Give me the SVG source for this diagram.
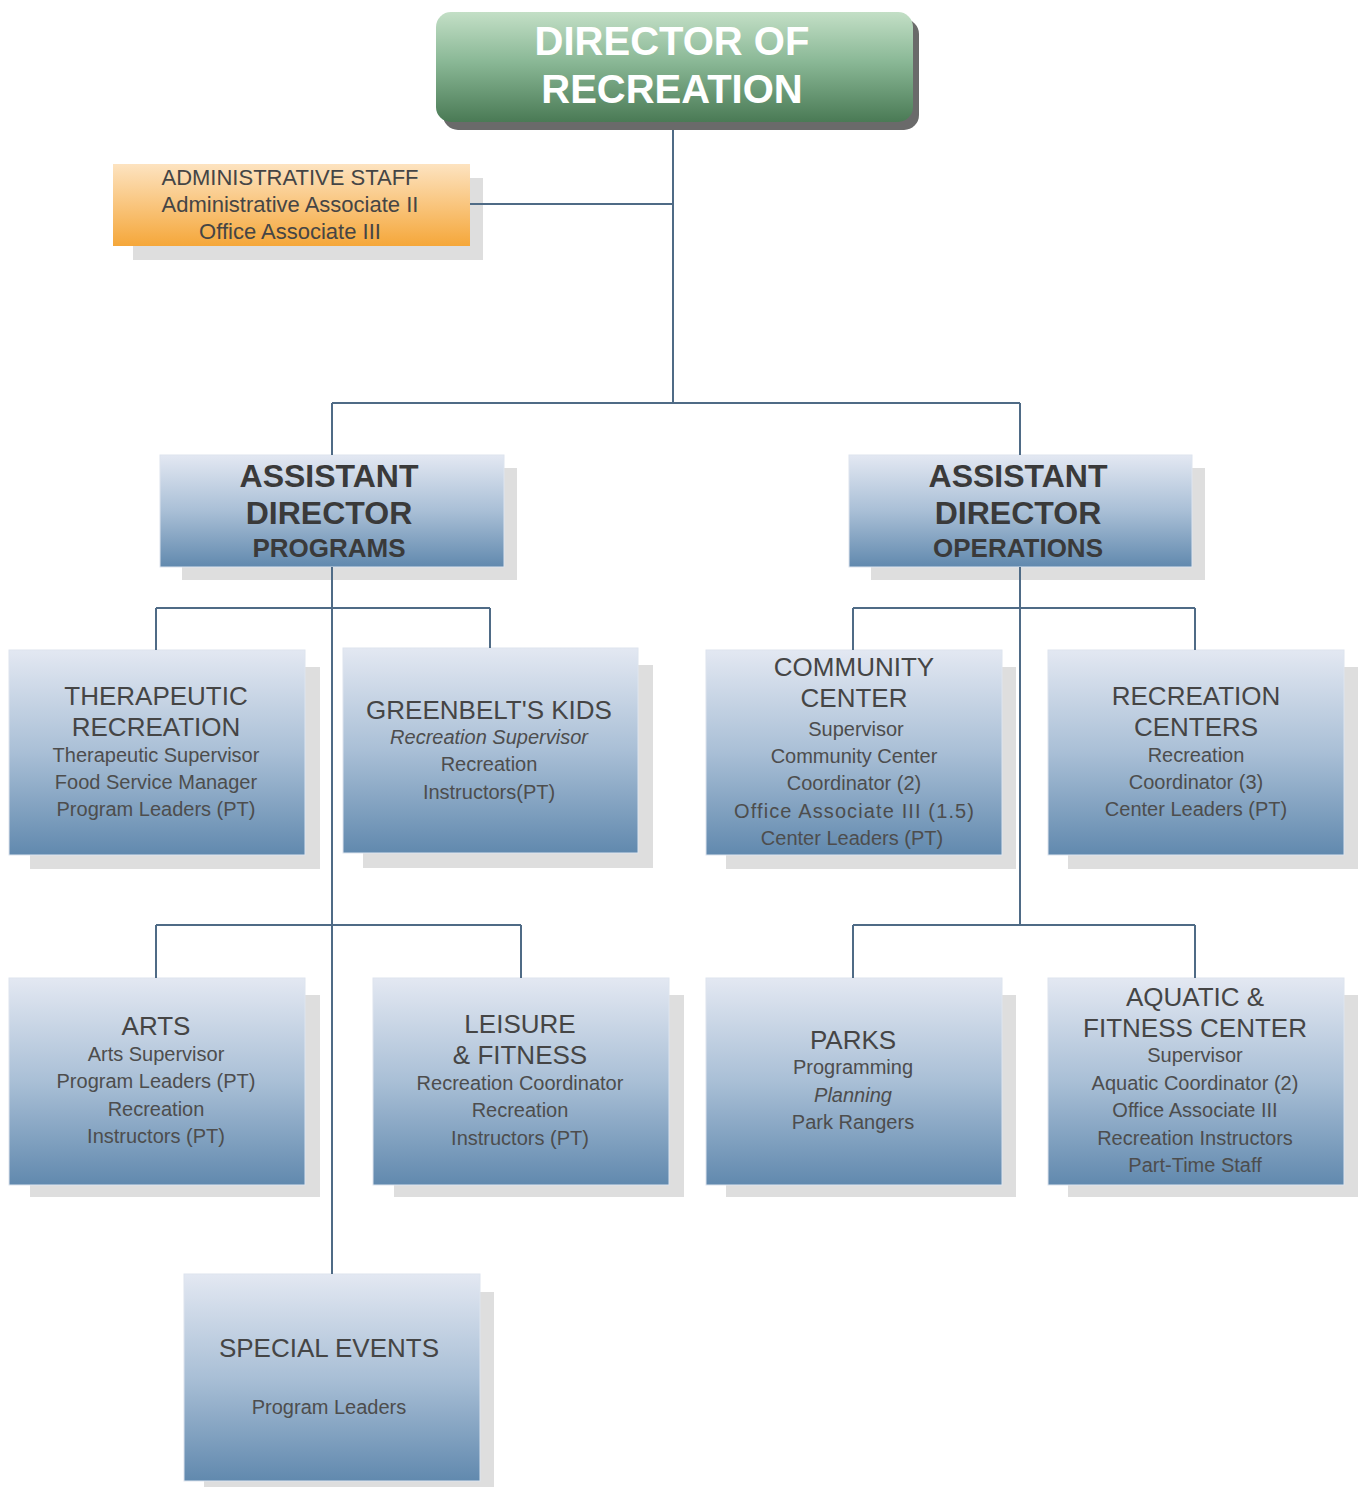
<svg xmlns="http://www.w3.org/2000/svg" width="1362" height="1487" viewBox="0 0 1362 1487">
<defs>
<linearGradient id="gBlue" x1="0" y1="0" x2="0" y2="1">
<stop offset="0" stop-color="#e3e8f2"/>
<stop offset="0.5" stop-color="#a9bfd6"/>
<stop offset="1" stop-color="#6189ae"/>
</linearGradient>
<linearGradient id="gGreen" x1="0" y1="0" x2="0" y2="1">
<stop offset="0" stop-color="#c3dfc6"/>
<stop offset="0.45" stop-color="#8ab896"/>
<stop offset="1" stop-color="#4a7a55"/>
</linearGradient>
<linearGradient id="gOrange" x1="0" y1="0" x2="0" y2="1">
<stop offset="0" stop-color="#fde3c0"/>
<stop offset="1" stop-color="#f5a73a"/>
</linearGradient>
</defs>
<style>
.sh{fill:#dedede}
.box{fill:url(#gBlue);stroke:#dde4ee;stroke-width:1}
.t{font-family:"Liberation Sans",Arial,sans-serif;text-anchor:middle;fill:#454545}
.h{font-size:26px}
.s{font-size:20px;fill:#4d4d4d}
.b{font-weight:bold;fill:#3a3a3a}
.c{stroke:#4f6b86;stroke-width:2;fill:none}
</style>
<rect width="1362" height="1487" fill="#ffffff"/>

<g id="director">
<rect x="443" y="19" width="476" height="111" rx="15" fill="#6a6a6a"/>
<rect x="436" y="12" width="477" height="110" rx="15" fill="url(#gGreen)"/>
<text class="t" x="672" y="55" font-size="40" font-weight="bold" style="fill:#ffffff">DIRECTOR OF</text>
<text class="t" x="672" y="103" font-size="40" font-weight="bold" style="fill:#ffffff">RECREATION</text>
</g>

<g id="admin-staff">
<rect class="sh" x="133" y="178" width="350" height="82"/>
<rect x="113" y="164" width="357" height="82" fill="url(#gOrange)"/>
<text class="t" x="290" y="185" font-size="22">ADMINISTRATIVE STAFF</text>
<text class="t" x="290" y="212" font-size="22">Administrative Associate II</text>
<text class="t" x="290" y="239" font-size="22">Office Associate III</text>
</g>

<g id="asst-programs">
<rect class="sh" x="182" y="468" width="335" height="112"/>
<rect class="box" x="160" y="455" width="344" height="112"/>
<text class="t b" x="329" y="487" font-size="32">ASSISTANT</text>
<text class="t b" x="329" y="524" font-size="32">DIRECTOR</text>
<text class="t b" x="329" y="557" font-size="26">PROGRAMS</text>
</g>

<g id="asst-operations">
<rect class="sh" x="871" y="468" width="334" height="112"/>
<rect class="box" x="849" y="455" width="343" height="112"/>
<text class="t b" x="1018" y="487" font-size="32">ASSISTANT</text>
<text class="t b" x="1018" y="524" font-size="32">DIRECTOR</text>
<text class="t b" x="1018" y="557" font-size="26">OPERATIONS</text>
</g>

<g id="therapeutic">
<rect class="sh" x="30" y="667" width="290" height="202"/>
<rect class="box" x="9" y="650" width="296" height="205"/>
<text class="t h" x="156" y="705">THERAPEUTIC</text>
<text class="t h" x="156" y="736">RECREATION</text>
<text class="t s" x="156" y="762">Therapeutic Supervisor</text>
<text class="t s" x="156" y="789">Food Service Manager</text>
<text class="t s" x="156" y="816">Program Leaders (PT)</text>
</g>

<g id="greenbelts-kids">
<rect class="sh" x="363" y="665" width="290" height="203"/>
<rect class="box" x="343" y="648" width="295" height="205"/>
<text class="t h" x="489" y="719">GREENBELT'S KIDS</text>
<text class="t s" x="489" y="744" font-style="italic">Recreation Supervisor</text>
<text class="t s" x="489" y="771">Recreation</text>
<text class="t s" x="489" y="799">Instructors(PT)</text>
</g>

<g id="community-center">
<rect class="sh" x="726" y="667" width="290" height="202"/>
<rect class="box" x="706" y="650" width="296" height="205"/>
<text class="t h" x="854" y="676">COMMUNITY</text>
<text class="t h" x="854" y="707">CENTER</text>
<text class="t s" x="856" y="736">Supervisor</text>
<text class="t s" x="854" y="763">Community Center</text>
<text class="t s" x="854" y="790">Coordinator (2)</text>
<text class="t s" x="854" y="818" textLength="240" lengthAdjust="spacing">Office Associate III  (1.5)</text>
<text class="t s" x="852" y="845">Center Leaders (PT)</text>
</g>

<g id="recreation-centers">
<rect class="sh" x="1068" y="667" width="290" height="202"/>
<rect class="box" x="1048" y="650" width="296" height="205"/>
<text class="t h" x="1196" y="705">RECREATION</text>
<text class="t h" x="1196" y="736">CENTERS</text>
<text class="t s" x="1196" y="762">Recreation</text>
<text class="t s" x="1196" y="789">Coordinator (3)</text>
<text class="t s" x="1196" y="816">Center Leaders (PT)</text>
</g>

<g id="arts">
<rect class="sh" x="30" y="995" width="290" height="202"/>
<rect class="box" x="9" y="978" width="296" height="207"/>
<text class="t h" x="156" y="1035">ARTS</text>
<text class="t s" x="156" y="1061">Arts Supervisor</text>
<text class="t s" x="156" y="1088">Program Leaders (PT)</text>
<text class="t s" x="156" y="1116">Recreation</text>
<text class="t s" x="156" y="1143">Instructors (PT)</text>
</g>

<g id="leisure-fitness">
<rect class="sh" x="394" y="995" width="290" height="202"/>
<rect class="box" x="373" y="978" width="296" height="207"/>
<text class="t h" x="520" y="1033">LEISURE</text>
<text class="t h" x="520" y="1064">&amp; FITNESS</text>
<text class="t s" x="520" y="1090">Recreation Coordinator</text>
<text class="t s" x="520" y="1117">Recreation</text>
<text class="t s" x="520" y="1145">Instructors (PT)</text>
</g>

<g id="parks">
<rect class="sh" x="726" y="995" width="290" height="202"/>
<rect class="box" x="706" y="978" width="296" height="207"/>
<text class="t h" x="853" y="1049">PARKS</text>
<text class="t s" x="853" y="1074">Programming</text>
<text class="t s" x="853" y="1102" font-style="italic">Planning</text>
<text class="t s" x="853" y="1129">Park Rangers</text>
</g>

<g id="aquatic-fitness">
<rect class="sh" x="1068" y="995" width="290" height="202"/>
<rect class="box" x="1048" y="978" width="296" height="207"/>
<text class="t h" x="1195" y="1006">AQUATIC &amp;</text>
<text class="t h" x="1195" y="1037">FITNESS CENTER</text>
<text class="t s" x="1195" y="1062">Supervisor</text>
<text class="t s" x="1195" y="1090">Aquatic Coordinator (2)</text>
<text class="t s" x="1195" y="1117">Office Associate III</text>
<text class="t s" x="1195" y="1145">Recreation Instructors</text>
<text class="t s" x="1195" y="1172">Part-Time Staff</text>
</g>

<g id="special-events">
<rect class="sh" x="204" y="1292" width="290" height="195"/>
<rect class="box" x="184" y="1274" width="296" height="207"/>
<text class="t h" x="329" y="1357">SPECIAL EVENTS</text>
<text class="t s" x="329" y="1414">Program Leaders</text>
</g>

<g id="connectors">
<path class="c" d="M673 130V403M470 204H673M332 403H1020M332 403V455M1020 403V455"/>
<path class="c" d="M332 567V1274M156 608H490M156 608V650M490 608V648M156 925H521M156 925V978M521 925V978"/>
<path class="c" d="M1020 567V925M853 608H1195M853 608V650M1195 608V650M853 925H1195M853 925V978M1195 925V978"/>
</g>
</svg>
